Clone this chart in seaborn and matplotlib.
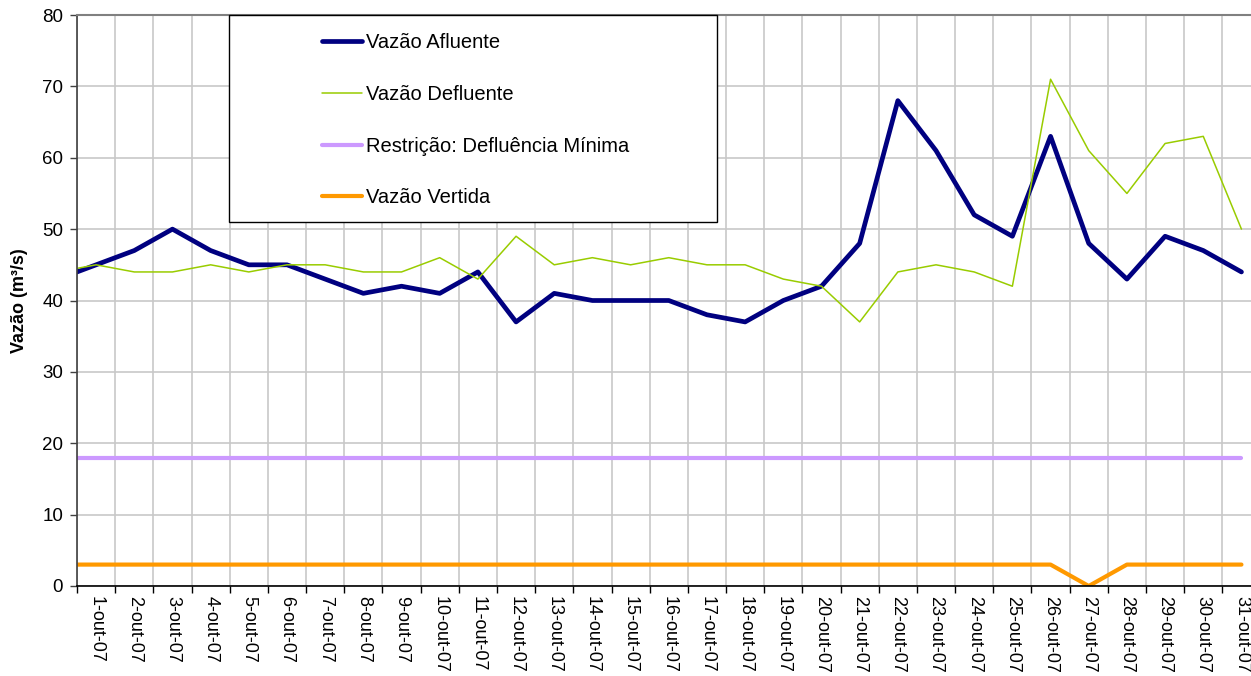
import matplotlib
matplotlib.use("Agg")
import matplotlib.pyplot as plt
from matplotlib.patches import Rectangle
import numpy as np
import pandas as pd
import seaborn as sns

# dias de outubro/2007; o dia 0 (30-set-07) fica cortado na borda esquerda
days = list(range(0, 32))
day_labels = [f"{d}-out-07" for d in range(1, 32)]

afluente = [43, 45, 47, 50, 47, 45, 45, 43, 41, 42, 41, 44, 37, 41, 40, 40,
            40, 38, 37, 40, 42, 48, 68, 61, 52, 49, 63, 48, 43, 49, 47, 44]
defluente = [44, 45, 44, 44, 45, 44, 45, 45, 44, 44, 46, 43, 49, 45, 46, 45,
             46, 45, 45, 43, 42, 37, 44, 45, 44, 42, 71, 61, 55, 62, 63, 50]
defluencia_minima = [18] * 32
vertida = [3] * 27 + [0] + [3] * 4

series_names = ["Vazão Afluente", "Vazão Defluente",
                "Restrição: Defluência Mínima", "Vazão Vertida"]
series_values = [afluente, defluente, defluencia_minima, vertida]
colors = ["#000080", "#99CC00", "#CC99FF", "#FF9900"]
widths = [3.4, 1.1, 3.0, 3.0]

df = pd.DataFrame({"dia": days})
for name, vals in zip(series_names, series_values):
    df[name] = vals

sns.set_style("white")
plt.rcParams["font.family"] = ["Liberation Sans", "DejaVu Sans"]
plt.rcParams["text.color"] = "black"
plt.rcParams["xtick.color"] = "black"
plt.rcParams["ytick.color"] = "black"
plt.rcParams["axes.labelcolor"] = "black"

fig = plt.figure(figsize=(12.51, 6.76), dpi=100)
ax = fig.add_axes([77 / 1251, 1 - 586 / 676, 1 - 77 / 1251, (586 - 15) / 676])

for name, color, lw in zip(series_names, colors, widths):
    sns.lineplot(data=df, x="dia", y=name, ax=ax, color=color, linewidth=lw,
                 label=name, legend=False)

ax.set_xlim(0.5, 31.25)
ax.set_ylim(0, 80)

ax.set_yticks(np.arange(0, 81, 10))
ax.tick_params(axis="y", which="major", direction="out", length=5, width=1,
               color="#404040", labelcolor="black", labelsize=13.5, pad=5,
               left=True)

ax.set_xticks(range(1, 32))
ax.set_xticklabels(day_labels, rotation=270, fontsize=13)
ax.set_xticks(np.arange(0.5, 31.5, 1), minor=True)
ax.tick_params(axis="x", which="major", length=0, pad=7, labelcolor="black")
ax.tick_params(axis="x", which="minor", direction="out", length=5, width=1,
               color="black", bottom=True)

ax.grid(False)
ax.grid(True, axis="y", which="major", color="#c8c8c8", linewidth=1.2)
ax.grid(True, axis="x", which="minor", color="#c8c8c8", linewidth=1.2)
ax.set_axisbelow(True)

ax.spines["left"].set_color("#404040")
ax.spines["left"].set_linewidth(1.2)
ax.spines["bottom"].set_color("black")
ax.spines["bottom"].set_linewidth(1.2)
ax.spines["top"].set_color("#808080")
ax.spines["top"].set_linewidth(1.5)
ax.spines["right"].set_visible(False)

ax.set_xlabel("")
ax.set_ylabel("Vazão (m³/s)", fontsize=13, fontweight="bold", labelpad=10,
              color="black")

# caixa da legenda
fig.patches.append(Rectangle((229 / 1251, 1 - 222 / 676), (717 - 229) / 1251,
                             (222 - 15) / 676, transform=fig.transFigure,
                             facecolor="white", edgecolor="black",
                             linewidth=1, zorder=5))
handles, labels = ax.get_legend_handles_labels()
leg = fig.legend(handles, labels, loc="upper left",
                 bbox_to_anchor=(322 / 1251, 1 - 33.5 / 676), frameon=False,
                 fontsize=14.5, handlelength=2.0, handletextpad=0.2,
                 labelspacing=1.62, borderpad=0, borderaxespad=0)
leg.set_zorder(6)
for t in leg.get_texts():
    t.set_color("black")

fig.savefig("out.png", dpi=100)
plt.close(fig)
